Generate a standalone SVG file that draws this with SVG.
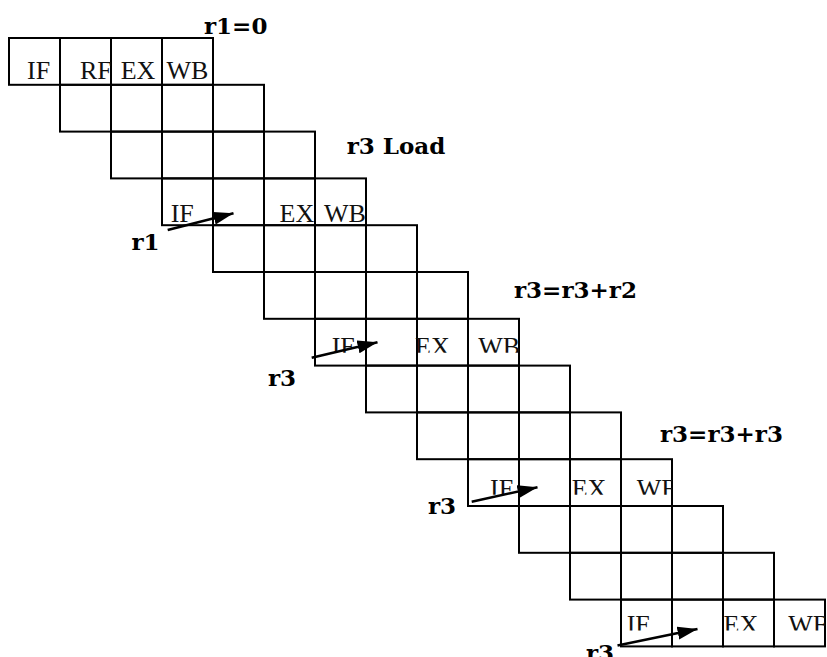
<svg xmlns="http://www.w3.org/2000/svg" width="827" height="657" viewBox="0 0 827 657">
  <style>
    .cell { fill: none; stroke: #000; stroke-width: 2; }
    .stage { font-family: "Liberation Serif", "Times New Roman", serif; font-size: 26px; fill: #111; }
    .note { font-family: "DejaVu Serif", "Liberation Serif", serif; font-size: 23px; font-weight: bold; fill: #000; }
    .fwd { stroke: #000; stroke-width: 2.5; fill: none; marker-end: url(#head); }
  </style>
  <defs>
    <!-- one instruction row: four pipeline slots -->
    <g id="slots">
      <rect class="cell" x="0" y="0" width="51" height="46.8"/>
      <rect class="cell" x="51" y="0" width="51" height="46.8"/>
      <rect class="cell" x="102" y="0" width="51" height="46.8"/>
      <rect class="cell" x="153" y="0" width="51" height="46.8"/>
    </g>
    <marker id="head" markerUnits="userSpaceOnUse" markerWidth="22" markerHeight="14" refX="20" refY="6.5" orient="auto">
      <path d="M0,0 L20,6.5 L0,13 Z" fill="#000"/>
    </marker>
  </defs>

  <rect width="827" height="657" fill="#fff"/>

  <!-- instruction rows, each shifted one cycle right -->
  <g id="row0">
    <use href="#slots" x="9" y="38"/>
    <svg x="9" y="38" width="51" height="46.8"><text class="stage" x="18" y="41">IF</text></svg>
    <svg x="60" y="38" width="51" height="46.8"><text class="stage" x="20" y="41">RF</text></svg>
    <svg x="111" y="38" width="51" height="46.8"><text class="stage" x="9.7" y="41">EX</text></svg>
    <svg x="162" y="38" width="51" height="46.8"><text class="stage" x="4.5" y="41">WB</text></svg>
  </g>
  <g id="row1"><use href="#slots" x="60" y="84.8"/></g>
  <g id="row2"><use href="#slots" x="111" y="131.6"/></g>
  <g id="row3">
    <use href="#slots" x="162" y="178.4"/>
    <svg x="162" y="178.4" width="204" height="45.8">
      <text class="stage" x="8.7" y="44">IF</text>
      <text class="stage" x="117.5" y="44">EX</text>
      <text class="stage" x="162" y="44">WB</text>
    </svg>
  </g>
  <g id="row4"><use href="#slots" x="213" y="225.2"/></g>
  <g id="row5"><use href="#slots" x="264" y="272"/></g>
  <g id="row6">
    <use href="#slots" x="315" y="318.8"/>
    <svg x="315" y="318.8" width="204" height="34">
      <text class="stage" x="16.7" y="36">IF</text>
      <text class="stage" x="100" y="36">EX</text>
      <text class="stage" x="163.3" y="36">WB</text>
    </svg>
  </g>
  <g id="row7"><use href="#slots" x="366" y="365.6"/></g>
  <g id="row8"><use href="#slots" x="417" y="412.4"/></g>
  <g id="row9">
    <use href="#slots" x="468" y="459.2"/>
    <svg x="468" y="459.2" width="204" height="35.5">
      <text class="stage" x="22" y="37.5">IF</text>
      <text class="stage" x="103.7" y="37.5">EX</text>
      <text class="stage" x="168.7" y="37.5">WB</text>
    </svg>
  </g>
  <g id="row10"><use href="#slots" x="519" y="506"/></g>
  <g id="row11"><use href="#slots" x="570" y="552.8"/></g>
  <g id="row12">
    <use href="#slots" x="621" y="599.6"/>
    <svg x="621" y="599.6" width="204" height="31">
      <text class="stage" x="5.7" y="33">IF</text>
      <text class="stage" x="102.5" y="33">EX</text>
      <text class="stage" x="167.3" y="33">WB</text>
    </svg>
  </g>

  <!-- forwarding arrows -->
  <g id="connectors">
    <line class="fwd" x1="167.7" y1="230" x2="233.5" y2="213.3"/>
    <line class="fwd" x1="311.7" y1="357.7" x2="377.5" y2="342.3"/>
    <line class="fwd" x1="471.7" y1="501.7" x2="537.5" y2="487.3"/>
    <line class="fwd" x1="617.5" y1="645.5" x2="697.5" y2="629"/>
  </g>

  <!-- annotations -->
  <g id="labels">
    <text class="note" x="204" y="34.3">r1=0</text>
    <text class="note" x="346.7" y="154.3">r3 Load</text>
    <text class="note" x="514" y="297.7">r3=r3+r2</text>
    <text class="note" x="660" y="441.7">r3=r3+r3</text>
    <text class="note" x="131.5" y="249.5">r1</text>
    <text class="note" x="268" y="385.5">r3</text>
    <text class="note" x="428" y="514.3">r3</text>
    <text class="note" x="586" y="661">r3</text>
  </g>
</svg>
